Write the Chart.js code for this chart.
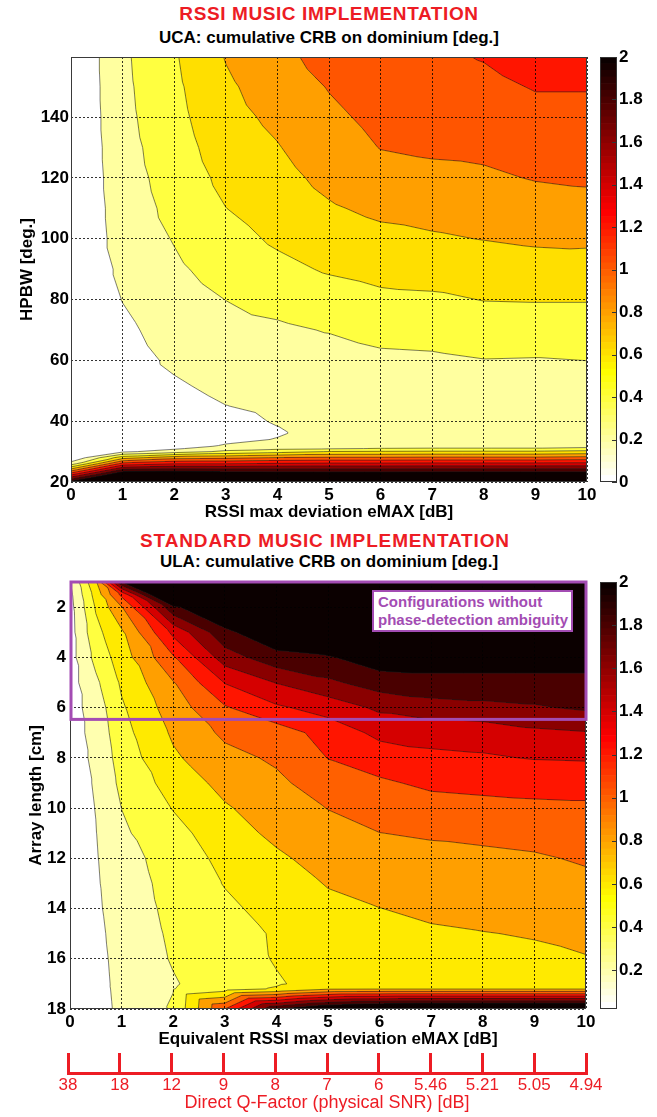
<!DOCTYPE html>
<html>
<head>
<meta charset="utf-8">
<script src="https://cdn.jsdelivr.net/npm/chart.js@4.4.1/dist/chart.umd.min.js"></script>
<style>
  html, body { margin:0; padding:0; background:#fff; }
  body { position:relative; width:657px; height:1117px; overflow:hidden; font-family:"Liberation Sans", Arial, Helvetica, sans-serif; }
  canvas { position:absolute; }
  .ttl { position:absolute; left:71px; width:516px; text-align:center; font-weight:bold; font-size:19px; line-height:22px; letter-spacing:0.6px; color:#ed1c24; white-space:nowrap; }
  .sub { position:absolute; left:71px; width:516px; text-align:center; font-weight:bold; font-size:17px; line-height:20px; color:#000; white-space:nowrap; }
  .note { position:absolute; left:372px; top:590px; width:201px; height:42px; box-sizing:border-box; border:2px solid #a34cb3; background:#fff; color:#a34cb3; font-weight:bold; font-size:15px; line-height:17.7px; padding:1px 0 0 4px; white-space:nowrap; }
</style>
</head>
<body>
<div class="ttl" style="top:3px">RSSI MUSIC IMPLEMENTATION</div>
<div class="sub" style="top:28px">UCA: cumulative CRB on dominium [deg.]</div>
<canvas id="c1" width="600" height="480" style="left:0;top:50px;width:600px;height:480px"></canvas>
<canvas id="cb1" width="67" height="480" style="left:590px;top:50px;width:67px;height:480px"></canvas>
<div class="ttl" style="top:530px;left:67px;letter-spacing:0.85px">STANDARD MUSIC IMPLEMENTATION</div>
<div class="sub" style="top:552px">ULA: cumulative CRB on dominium [deg.]</div>
<canvas id="c2" width="600" height="480" style="left:0;top:575px;width:600px;height:480px"></canvas>
<canvas id="cb2" width="67" height="480" style="left:590px;top:575px;width:67px;height:480px"></canvas>
<div class="note">Configurations without<br>phase-detection ambiguity</div>
<canvas id="c3" width="657" height="77" style="left:0;top:1040px;width:657px;height:77px"></canvas>
<script>
// ===================== DATA =====================
// Contour levels of the cumulative CRB [deg.]
const CRB_LEVELS = [0.2, 0.4, 0.6, 0.8, 1.0, 1.2, 1.4, 1.6, 1.8, 2.0];

// ---- Top chart: UCA, RSSI MUSIC (x = eMAX [dB], y = HPBW [deg.])
const UCA_EMAX = [0, 1, 2, 3, 4, 5, 6, 7, 8, 9, 10];
const UCA_HPBW = [20, 22, 24, 26, 28, 30, 31, 32, 34, 36, 38, 40, 45, 50, 55, 60, 70, 80, 90, 100, 110, 120, 130, 140, 150, 160];
const UCA_CRB_E0  = [2.1, 1.5, 0.9, 0.3, 0, 0, 0, 0, 0, 0, 0, 0, 0, 0, 0, 0, 0, 0, 0, 0, 0, 0, 0, 0, 0, 0];
const UCA_CRB_E1  = [2.95, 2.4, 1.85, 1.28, 0.72, 0.16, 0.14, 0.13, 0.12, 0.12, 0.12, 0.12, 0.12, 0.12, 0.12, 0.125, 0.16, 0.205, 0.245, 0.286, 0.3, 0.317, 0.33, 0.345, 0.355, 0.364];
const UCA_CRB_E2  = [2.85, 2.37, 1.9, 1.4, 0.92, 0.3, 0.17, 0.14, 0.12, 0.11, 0.11, 0.12, 0.14, 0.17, 0.199, 0.23, 0.28, 0.32, 0.37, 0.41, 0.45, 0.48, 0.51, 0.54, 0.56, 0.58];
const UCA_CRB_E3  = [2.8, 2.33, 1.87, 1.4, 0.95, 0.44, 0.32, 0.21, 0.17, 0.15, 0.15, 0.16, 0.198, 0.23, 0.26, 0.28, 0.34, 0.402, 0.47, 0.53, 0.598, 0.65, 0.7, 0.74, 0.77, 0.81];
const UCA_CRB_E4  = [2.75, 2.3, 1.87, 1.43, 1.01, 0.52, 0.36, 0.28, 0.205, 0.19, 0.198, 0.21, 0.23, 0.25, 0.27, 0.3, 0.37, 0.46, 0.55, 0.63, 0.69, 0.74, 0.79, 0.84, 0.89, 0.94];
const UCA_CRB_E5  = [2.7, 2.28, 1.87, 1.45, 1.03, 0.61, 0.38, 0.27, 0.25, 0.24, 0.24, 0.24, 0.25, 0.27, 0.29, 0.32, 0.41, 0.51, 0.62, 0.7, 0.78, 0.85, 0.91, 0.96, 1.01, 1.08];
const UCA_CRB_E6  = [2.7, 2.28, 1.87, 1.45, 1.03, 0.62, 0.41, 0.28, 0.27, 0.27, 0.27, 0.27, 0.28, 0.3, 0.33, 0.36, 0.46, 0.56, 0.66, 0.75, 0.84, 0.93, 1.005, 1.05, 1.1, 1.14];
const UCA_CRB_E7  = [2.71, 2.29, 1.88, 1.46, 1.04, 0.63, 0.42, 0.28, 0.27, 0.27, 0.27, 0.27, 0.28, 0.3, 0.33, 0.37, 0.47, 0.57, 0.68, 0.78, 0.86, 0.95, 1.03, 1.08, 1.13, 1.17];
const UCA_CRB_E8  = [2.71, 2.29, 1.88, 1.46, 1.04, 0.63, 0.42, 0.28, 0.27, 0.27, 0.27, 0.27, 0.28, 0.31, 0.35, 0.395, 0.5, 0.605, 0.7, 0.805, 0.88, 0.97, 1.04, 1.1, 1.16, 1.21];
const UCA_CRB_E9  = [2.71, 2.29, 1.88, 1.46, 1.04, 0.63, 0.42, 0.28, 0.27, 0.27, 0.27, 0.27, 0.28, 0.3, 0.34, 0.39, 0.5, 0.61, 0.72, 0.83, 0.92, 1.01, 1.08, 1.15, 1.21, 1.27];
const UCA_CRB_E10 = [2.69, 2.28, 1.88, 1.47, 1.07, 0.66, 0.46, 0.28, 0.27, 0.27, 0.27, 0.27, 0.28, 0.3, 0.34, 0.401, 0.5, 0.61, 0.71, 0.84, 0.93, 1.03, 1.1, 1.15, 1.21, 1.28];
const UCA_X_TICKS = [0, 1, 2, 3, 4, 5, 6, 7, 8, 9, 10];
const UCA_Y_TICKS = [20, 40, 60, 80, 100, 120, 140];

// ---- Bottom chart: ULA, standard MUSIC (x = equivalent eMAX [dB], y = array length [cm])
const ULA_EMAX = [0, 0.5, 1, 2, 3, 4, 5, 6, 7, 8, 9, 10];
const ULA_LENGTH = [1, 1.5, 2, 3, 4, 5, 6, 7, 8, 9, 10, 11, 12, 13, 14, 15, 16, 17, 17.2, 18];
const ULA_CRB_E0   = [0.19, 0.15, 0.13, 0.12, 0.12, 0.12, 0.12, 0.12, 0.12, 0.12, 0.12, 0.12, 0.12, 0.12, 0.12, 0.12, 0.12, 0.12, 0.12, 0.12];
const ULA_CRB_E0_5 = [0.78, 0.68, 0.62, 0.54, 0.46, 0.36, 0.29, 0.26, 0.235, 0.215, 0.204, 0.195, 0.185, 0.175, 0.165, 0.15, 0.135, 0.125, 0.12, 0.11];
const ULA_CRB_E1   = [2.01, 1.25, 0.99, 0.77, 0.7, 0.63, 0.575, 0.53, 0.49, 0.45, 0.402, 0.37, 0.34, 0.32, 0.3, 0.28, 0.27, 0.26, 0.26, 0.25];
const ULA_CRB_E2   = [2.9, 2.6, 1.96, 1.45, 1.18, 0.99, 0.9, 0.83, 0.77, 0.68, 0.61, 0.53, 0.47, 0.455, 0.445, 0.43, 0.415, 0.385, 0.395, 0.42];
const ULA_CRB_E3   = [2.6, 2.45, 2.25, 1.95, 1.7, 1.41, 1.18, 1.04, 0.94, 0.86, 0.78, 0.72, 0.66, 0.61, 0.56, 0.52, 0.5, 0.5, 0.52, 1.2];
const ULA_CRB_E4   = [2.8, 2.65, 2.5, 2.18, 1.93, 1.61, 1.37, 1.1, 1.03, 0.96, 0.9, 0.84, 0.77, 0.72, 0.67, 0.62, 0.615, 0.58, 0.62, 2.0];
const ULA_CRB_E5   = [3.0, 2.8, 2.6, 2.3, 1.98, 1.76, 1.48, 1.28, 1.205, 1.1, 1.005, 0.93, 0.87, 0.81, 0.76, 0.72, 0.7, 0.68, 0.78, 2.3];
const ULA_CRB_E6   = [3.2, 3.0, 2.8, 2.5, 2.12, 1.9, 1.64, 1.45, 1.3, 1.17, 1.08, 0.998, 0.93, 0.86, 0.798, 0.76, 0.73, 0.7, 0.79, 2.45];
const ULA_CRB_E7   = [3.2, 3.0, 2.8, 2.5, 2.12, 1.93, 1.72, 1.47, 1.36, 1.24, 1.12, 1.02, 0.95, 0.89, 0.83, 0.78, 0.75, 0.71, 0.79, 2.5];
const ULA_CRB_E8   = [3.2, 3.0, 2.8, 2.5, 2.12, 1.93, 1.75, 1.48, 1.38, 1.26, 1.14, 1.04, 0.96, 0.9, 0.85, 0.795, 0.76, 0.72, 0.79, 2.5];
const ULA_CRB_E9   = [3.2, 3.0, 2.8, 2.5, 2.12, 1.93, 1.78, 1.56, 1.41, 1.27, 1.16, 1.06, 0.98, 0.92, 0.87, 0.81, 0.77, 0.72, 0.79, 2.5];
const ULA_CRB_E10  = [3.2, 3.0, 2.8, 2.5, 2.12, 1.93, 1.83, 1.59, 1.42, 1.27, 1.17, 1.09, 1.02, 0.96, 0.9, 0.85, 0.79, 0.72, 0.79, 2.5];
const ULA_X_TICKS = [0, 1, 2, 3, 4, 5, 6, 7, 8, 9, 10];
const ULA_Y_TICKS = [2, 4, 6, 8, 10, 12, 14, 16, 18];
const ULA_NO_AMBIGUITY_MAX_LENGTH = 6.47;   // array length bounding the annotated region

// ---- Colorbars
const CB_TOP_TICKS = [0, 0.2, 0.4, 0.6, 0.8, 1, 1.2, 1.4, 1.6, 1.8, 2];
const CB_BOTTOM_TICKS = [0.2, 0.4, 0.6, 0.8, 1, 1.2, 1.4, 1.6, 1.8, 2];

// ---- Secondary axis: direct Q-factor for each equivalent eMAX
const QF_LABELS = ['38', '18', '12', '9', '8', '7', '6', '5.46', '5.21', '5.05', '4.94'];

// ===================== STYLE / HELPERS =====================
const RED = '#ed1c24';
const PURPLE = '#a34cb3';
const GRID_COLOR = 'rgba(0,0,0,0.8)';
const FRAME_COLOR = '#3a3a3a';
const TICK_FONT = {size: 17, weight: 'bold'};
const AXIS_TITLE_FONT = {size: 17, weight: 'bold'};
Chart.defaults.font.family = '"Liberation Sans", Arial, Helvetica, sans-serif';
Chart.defaults.color = '#000';

// MATLAB flipud(hot(64)) colormap, 1-based index
function hotRev64(i) {
  const h = 65 - i;
  const r = Math.min(1, h / 24);
  const g = Math.min(1, Math.max(0, (h - 24) / 24));
  const b = Math.min(1, Math.max(0, (h - 48) / 16));
  return [Math.round(r * 255), Math.round(g * 255), Math.round(b * 255)];
}
function levelColor(v, cMin, cMax) {
  let i = Math.floor((v - cMin) / (cMax - cMin) * 64 + 1e-9) + 1;
  i = Math.max(1, Math.min(64, i));
  return hotRev64(i);
}
const rgb = c => `rgb(${c[0]},${c[1]},${c[2]})`;
const fixTicks = list => s => { s.ticks = list.map(v => ({value: v})); };

function contourPlugin(xs, ys, cols, levels, cMin, cMax) {
  const regionColors = [levelColor(cMin, cMin, cMax)].concat(levels.map(l => levelColor(l, cMin, cMax)));
  const locate = (arr, v) => {
    let i = 0;
    while (i < arr.length - 2 && v > arr[i + 1]) i++;
    const t = (v - arr[i]) / (arr[i + 1] - arr[i]);
    return [i, Math.max(0, Math.min(1, t))];
  };
  const zAt = (i, t, j, u) => {
    const z00 = cols[i][j], z10 = cols[i + 1][j], z01 = cols[i][j + 1], z11 = cols[i + 1][j + 1];
    return t >= u ? z00 + t * (z10 - z00) + u * (z11 - z10) : z00 + u * (z01 - z00) + t * (z11 - z01);
  };
  const levelIndex = z => { let k = 0; while (k < levels.length && z >= levels[k]) k++; return k; };
  return {
    id: 'contourFill',
    beforeDatasetsDraw(chart) {
      const {ctx, chartArea: a} = chart;
      const sx = chart.scales.x, sy = chart.scales.y;
      const L = Math.round(a.left), T = Math.round(a.top);
      const W = Math.round(a.right) - L, H = Math.round(a.bottom) - T;
      const img = ctx.createImageData(W, H);
      const xc = [], yc = [];
      for (let i = 0; i < W; i++) xc.push(locate(xs, sx.getValueForPixel(L + i + 0.5)));
      for (let j = 0; j < H; j++) yc.push(locate(ys, sy.getValueForPixel(T + j + 0.5)));
      for (let j = 0; j < H; j++) {
        for (let i = 0; i < W; i++) {
          const c = regionColors[levelIndex(zAt(xc[i][0], xc[i][1], yc[j][0], yc[j][1]))];
          const p = (j * W + i) * 4;
          img.data[p] = c[0]; img.data[p + 1] = c[1]; img.data[p + 2] = c[2]; img.data[p + 3] = 255;
        }
      }
      ctx.putImageData(img, L, T);
      // iso-lines (marching triangles, same triangulation as the fill)
      const px = xs.map(v => sx.getPixelForValue(v)), py = ys.map(v => sy.getPixelForValue(v));
      ctx.save();
      ctx.beginPath(); ctx.rect(a.left, a.top, a.right - a.left, a.bottom - a.top); ctx.clip();
      ctx.strokeStyle = 'rgba(25,25,25,0.7)'; ctx.lineWidth = 0.8;
      ctx.beginPath();
      for (let i = 0; i < xs.length - 1; i++) {
        for (let j = 0; j < ys.length - 1; j++) {
          const tris = [[[i, j], [i + 1, j], [i + 1, j + 1]], [[i, j], [i, j + 1], [i + 1, j + 1]]];
          for (const tri of tris) {
            const P = tri.map(([a1, b1]) => [px[a1], py[b1], cols[a1][b1]]);
            for (const lev of levels) {
              const pts = [];
              for (const [m, n] of [[0, 1], [1, 2], [2, 0]]) {
                const A = P[m], B = P[n];
                if ((A[2] >= lev) !== (B[2] >= lev)) {
                  const f = (lev - A[2]) / (B[2] - A[2]);
                  pts.push([A[0] + f * (B[0] - A[0]), A[1] + f * (B[1] - A[1])]);
                }
              }
              if (pts.length === 2) { ctx.moveTo(pts[0][0], pts[0][1]); ctx.lineTo(pts[1][0], pts[1][1]); }
            }
          }
        }
      }
      ctx.stroke();
      ctx.restore();
    }
  };
}

const framePlugin = {
  id: 'frame',
  afterDraw(chart) {
    const {ctx, chartArea: a} = chart;
    ctx.save();
    ctx.strokeStyle = FRAME_COLOR; ctx.lineWidth = 1;
    ctx.strokeRect(Math.round(a.left) + 0.5, Math.round(a.top) + 0.5, Math.round(a.right - a.left) - 1, Math.round(a.bottom - a.top) - 1);
    ctx.restore();
  }
};

const ambiguityPlugin = {
  id: 'ambiguityBox',
  afterDraw(chart) {
    const {ctx} = chart;
    const sx = chart.scales.x, sy = chart.scales.y;
    const x0 = sx.getPixelForValue(ULA_X_TICKS[0]) + 1, x1 = sx.getPixelForValue(ULA_X_TICKS[ULA_X_TICKS.length - 1]);
    const y0 = sy.getPixelForValue(ULA_LENGTH[0]), y1 = sy.getPixelForValue(ULA_NO_AMBIGUITY_MAX_LENGTH);
    ctx.save();
    ctx.strokeStyle = PURPLE; ctx.lineWidth = 3;
    ctx.strokeRect(x0, y0, x1 - x0, y1 - y0);
    ctx.restore();
  }
};

function makeContour(id, o) {
  return new Chart(document.getElementById(id), {
    type: 'scatter',
    data: {datasets: [{data: []}]},
    options: {
      responsive: false, animation: false, devicePixelRatio: 1, events: [],
      layout: {padding: o.padding},
      plugins: {legend: {display: false}, tooltip: {enabled: false}},
      scales: {
        x: {
          type: 'linear', min: o.xMin, max: o.xMax,
          afterBuildTicks: fixTicks(o.xTicks),
          afterFit: s => { s.height = o.xAxisH; s.paddingLeft = 0; s.paddingRight = 0; },
          grid: {color: GRID_COLOR, lineWidth: 1, drawTicks: false, z: 1},
          border: {display: false, dash: [2, 2]},
          ticks: {font: TICK_FONT, color: '#000', padding: o.xTickPad, maxRotation: 0, autoSkip: false},
          title: {display: true, text: o.xTitle, font: AXIS_TITLE_FONT, color: '#000', padding: {top: 0, bottom: o.xTitlePad}}
        },
        y: {
          type: 'linear', min: o.yMin, max: o.yMax, reverse: !!o.yReverse,
          afterBuildTicks: fixTicks(o.yTicks),
          afterFit: s => { s.width = o.yAxisW; s.paddingTop = 0; s.paddingBottom = 0; },
          grid: {color: GRID_COLOR, lineWidth: 1, drawTicks: false, z: 1},
          border: {display: false, dash: [2, 2]},
          ticks: {font: TICK_FONT, color: '#000', padding: o.yTickPad, autoSkip: false},
          title: {display: true, text: o.yTitle, font: AXIS_TITLE_FONT, color: '#000', padding: {top: o.yTitlePad, bottom: 0}}
        }
      }
    },
    plugins: [contourPlugin(o.xs, o.ys, o.cols, CRB_LEVELS, o.cMin, o.cMax), framePlugin].concat(o.extra || [])
  });
}

function makeColorbar(id, cMin, cMax, ticks, padding) {
  const n = 64, step = (cMax - cMin) / n, datasets = [];
  for (let i = 1; i <= n; i++) {
    datasets.push({data: [i === 1 ? cMin + step : step], backgroundColor: rgb(hotRev64(i)), borderWidth: 0,
      barPercentage: 1, categoryPercentage: 1});
  }
  const cbFrame = {
    id: 'cbFrame',
    afterDraw(chart) {
      const {ctx, chartArea: a} = chart;
      const sy = chart.scales.y;
      ctx.save();
      ctx.strokeStyle = '#333'; ctx.lineWidth = 1;
      ctx.strokeRect(Math.round(a.left) + 0.5, Math.round(a.top) + 0.5, Math.round(a.right - a.left) - 1, Math.round(a.bottom - a.top) - 1);
      ctx.beginPath();
      for (const v of ticks) {
        const y = Math.round(sy.getPixelForValue(v)) + 0.5;
        ctx.moveTo(Math.round(a.right) - 5, y); ctx.lineTo(Math.round(a.right), y);
      }
      ctx.stroke();
      ctx.restore();
    }
  };
  return new Chart(document.getElementById(id), {
    type: 'bar',
    data: {labels: [''], datasets},
    options: {
      responsive: false, animation: false, devicePixelRatio: 1, events: [],
      layout: {padding},
      plugins: {legend: {display: false}, tooltip: {enabled: false}},
      scales: {
        x: {display: false, stacked: true},
        y: {
          position: 'right', stacked: true, min: cMin, max: cMax,
          afterBuildTicks: fixTicks(ticks),
          afterFit: s => { s.width = 40; s.paddingTop = 0; s.paddingBottom = 0; },
          grid: {display: false, drawTicks: false},
          border: {display: false},
          ticks: {font: TICK_FONT, color: '#000', padding: 2, autoSkip: false, callback: v => String(Math.round(v * 10) / 10)}
        }
      }
    },
    plugins: [cbFrame]
  });
}

// ===================== CHARTS =====================
makeContour('c1', {
  xs: UCA_EMAX, ys: UCA_HPBW,
  cols: [UCA_CRB_E0, UCA_CRB_E1, UCA_CRB_E2, UCA_CRB_E3, UCA_CRB_E4, UCA_CRB_E5, UCA_CRB_E6, UCA_CRB_E7, UCA_CRB_E8, UCA_CRB_E9, UCA_CRB_E10],
  cMin: 0, cMax: 2,
  xMin: 0, xMax: 10, yMin: 20, yMax: 159.8,
  xTicks: UCA_X_TICKS, yTicks: UCA_Y_TICKS,
  padding: {left: 0, top: 7, right: 13, bottom: 0},
  xAxisH: 48, yAxisW: 71, xTickPad: 3, xTitlePad: 7, yTickPad: 2, yTitlePad: 17,
  xTitle: 'RSSI max deviation eMAX [dB]', yTitle: 'HPBW [deg.]'
});
makeColorbar('cb1', 0, 2, CB_TOP_TICKS, {left: 10, top: 7, right: 0, bottom: 48});

makeContour('c2', {
  xs: ULA_EMAX, ys: ULA_LENGTH,
  cols: [ULA_CRB_E0, ULA_CRB_E0_5, ULA_CRB_E1, ULA_CRB_E2, ULA_CRB_E3, ULA_CRB_E4, ULA_CRB_E5, ULA_CRB_E6, ULA_CRB_E7, ULA_CRB_E8, ULA_CRB_E9, ULA_CRB_E10],
  cMin: 0.02, cMax: 2,
  xMin: 0, xMax: 10, yMin: 1, yMax: 18, yReverse: true,
  xTicks: ULA_X_TICKS, yTicks: ULA_Y_TICKS,
  padding: {left: 0, top: 7, right: 14, bottom: 0},
  xAxisH: 46, yAxisW: 70, xTickPad: 3, xTitlePad: 5, yTickPad: 4, yTitlePad: 26,
  xTitle: 'Equivalent RSSI max deviation eMAX [dB]', yTitle: 'Array length [cm]',
  extra: [ambiguityPlugin]
});
makeColorbar('cb2', 0.02, 2, CB_BOTTOM_TICKS, {left: 10, top: 7, right: 0, bottom: 46});

new Chart(document.getElementById('c3'), {
  type: 'line',
  data: {labels: QF_LABELS, datasets: [{data: []}]},
  options: {
    responsive: false, animation: false, devicePixelRatio: 1, events: [],
    layout: {padding: {left: 68, right: 71, top: 13, bottom: 0}},
    plugins: {legend: {display: false}, tooltip: {enabled: false}},
    scales: {
      x: {
        type: 'category', offset: false,
        afterFit: s => { s.height = 44; s.paddingLeft = 0; s.paddingRight = 0; },
        grid: {color: RED, lineWidth: 3, drawTicks: false, offset: false},
        border: {display: true, color: RED, width: 3},
        ticks: {color: RED, font: {size: 17}, padding: 2, autoSkip: false, maxRotation: 0},
        title: {display: true, text: 'Direct Q-Factor (physical SNR) [dB]', color: RED, font: {size: 18}, padding: {top: 0, bottom: 3}}
      },
      y: {display: false}
    }
  }
});
</script>
</body>
</html>
